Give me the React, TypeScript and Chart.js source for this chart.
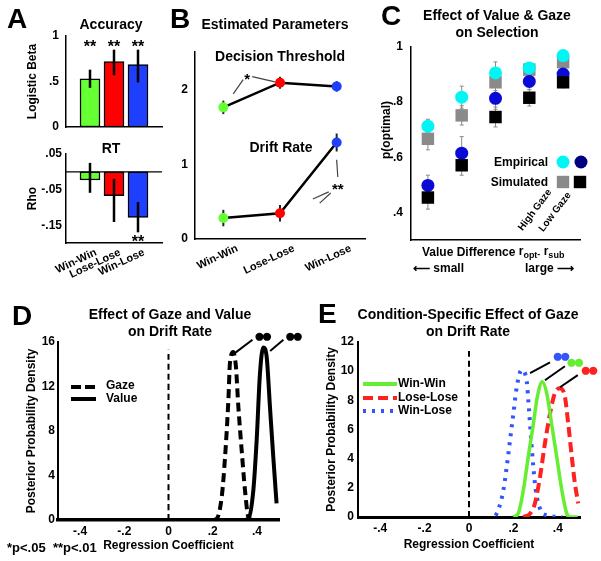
import React, { useEffect, useRef } from 'react';
import { Chart, registerables } from 'chart.js';

Chart.register(...registerables);

const FONT = '"Liberation Sans", Arial, Helvetica, sans-serif';
const PAGE_W = 601;
const PAGE_H = 561;

// ===================== DATA =====================
const CONDITIONS = ['Win-Win', 'Lose-Lose', 'Win-Lose'];
const COND_X = [1, 2, 3];

// Panel A: accuracy (logistic beta) and RT (rho)
const ACC_BETA = [0.53, 0.72, 0.685];
const ACC_LOW = [0.43, 0.57, 0.49];
const ACC_HIGH = [0.63, 0.85, 0.85];
const ACC_TICKS = [0, 0.5, 1];

const RT_RHO = [-0.023, -0.067, -0.128];
const RT_LOW = [-0.059, -0.141, -0.17];
const RT_HIGH = [0.025, -0.02, -0.085];
const RT_TICKS = [0.05, -0.05, -0.15];

// Panel B: estimated parameters
const THRESHOLD = [1.76, 2.09, 2.04];
const THRESHOLD_ERR = [0.09, 0.08, 0.07];
const DRIFT = [0.28, 0.345, 1.29];
const DRIFT_ERR = [0.11, 0.11, 0.12];
const PARAM_TICKS = [0, 1, 2];

// Panel C: p(optimal) by value-difference bin
const VALUE_BINS = [1, 2, 3, 4, 5];
const EMP_HIGH = [0.713, 0.818, 0.906, 0.924, 0.969];
const SIM_HIGH = [0.667, 0.752, 0.872, 0.918, 0.945];
const EMP_LOW = [0.498, 0.615, 0.814, 0.875, 0.902];
const SIM_LOW = [0.454, 0.571, 0.746, 0.816, 0.872];
const EMP_HIGH_ERR = [0.025, 0.04, 0.04, 0.02, 0.015];
const SIM_HIGH_ERR = [0.04, 0.035, 0.03, 0.02, 0.015];
const EMP_LOW_ERR = [0.037, 0.06, 0.04, 0.03, 0.02];
const SIM_LOW_ERR = [0.042, 0.036, 0.036, 0.03, 0.02];
const P_TICKS = [0.4, 0.6, 0.8, 1];

// Panel D: posterior densities of gaze and value coefficients
const COEF_TICKS = [-0.4, -0.2, 0, 0.2, 0.4];
const D_DENSITY_TICKS = [0, 4, 8, 12, 16];
const GAZE_X = [0.2, 0.218, 0.241, 0.256, 0.271, 0.278, 0.293, 0.305, 0.316, 0.331, 0.346, 0.361, 0.38, 0.5];
const GAZE_Y = [0, 0.1, 2.1, 5.7, 10.8, 14.1, 15.1, 13.8, 10.2, 6.3, 2.7, 0.3, 0, 0];
const VALUE_X = [0.34, 0.361, 0.384, 0.399, 0.414, 0.429, 0.444, 0.459, 0.474, 0.489];
const VALUE_Y = [0, 0.1, 2.7, 7.2, 13.2, 15.5, 14.7, 10.2, 5.7, 1.5];
const D_ZERO_REF = [0, 15.3];

// Panel E: condition-specific gaze coefficient posteriors
const E_DENSITY_TICKS = [0, 2, 4, 6, 8, 10, 12];
const WW_X = [0.2, 0.222, 0.245, 0.267, 0.29, 0.308, 0.33, 0.35, 0.372, 0.395, 0.418, 0.44, 0.455, 0.49];
const WW_Y = [0, 0.25, 1.85, 4.14, 6.4, 8.25, 9.28, 8.5, 6.4, 4.14, 1.85, 0.25, 0, 0];
const LL_X = [0.245, 0.275, 0.297, 0.32, 0.342, 0.365, 0.387, 0.41, 0.432, 0.447, 0.463, 0.477, 0.492];
const LL_Y = [0, 0.23, 0.94, 2.76, 5.05, 7.1, 8.5, 8.83, 8.25, 6.4, 4.14, 2.3, 0.94];
const WL_X = [0.12, 0.132, 0.155, 0.17, 0.185, 0.2, 0.215, 0.237, 0.26, 0.27, 0.28, 0.29, 0.3, 0.315, 0.335, 0.42];
const WL_Y = [0.1, 0.48, 1.85, 3.45, 5.28, 7.1, 8.9, 10.08, 9.3, 7.4, 5.3, 3.4, 1.9, 0.8, 0.2, 0];
const E_ZERO_REF = [0, 11.6];

// ===================== STYLE =====================
const GREEN = '#66ff33';
const RED = '#ff0000';
const BLUE = '#1f3fff';
const COND_COLORS = [GREEN, RED, BLUE];
const LINE_GREEN = '#66ee33';
const LINE_RED = '#ff2020';
const LINE_BLUE = '#3355ff';
const CYAN = '#00f5f5';
const DARK_BLUE = '#0a0ad6';
const NAVY = '#000080';
const GRAY = '#8a8a8a';

type Rect = { L: number; T: number; R: number; B: number };
const RECT_ACC: Rect = { L: 66, T: 36, R: 162, B: 127 };
const RECT_RT: Rect = { L: 66, T: 154, R: 162, B: 243 };
const RECT_B: Rect = { L: 195, T: 52, R: 365, B: 239 };
const RECT_C: Rect = { L: 411, T: 47, R: 580, B: 240 };
const RECT_D: Rect = { L: 58, T: 342, R: 279, B: 520 };
const RECT_E: Rect = { L: 358, T: 342, R: 580, B: 517 };

const bold = (size: number) => ({ family: FONT, size, weight: 'bold' as const });

function fmt(v: number): string {
  const r = Math.round(v * 1000) / 1000;
  if (r === 0) return '0';
  return String(r).replace(/^(-?)0\./, '$1.');
}

function baseOptions(r: Rect, yw: number, xh: number) {
  return {
    responsive: false,
    maintainAspectRatio: false,
    animation: false as const,
    devicePixelRatio: 1,
    events: [] as any[],
    layout: { padding: { left: r.L - yw, top: r.T, right: PAGE_W - r.R, bottom: PAGE_H - r.B - xh } },
    plugins: { legend: { display: false }, tooltip: { enabled: false }, title: { display: false } },
  };
}

function yAxis(o: { min: number; max: number; ticks: number[]; width: number; title?: string; pad?: number; size?: number; borderWidth?: number }) {
  return {
    type: 'linear',
    position: 'left',
    min: o.min,
    max: o.max,
    afterBuildTicks: (s: any) => { s.ticks = o.ticks.map((v) => ({ value: v })); },
    afterFit: (s: any) => { s.width = o.width; },
    ticks: { callback: (v: any) => fmt(+v), font: bold(o.size ?? 12), color: '#000', padding: o.pad ?? 5, autoSkip: false },
    grid: { display: false, drawTicks: false },
    border: { display: true, color: '#000', width: o.borderWidth ?? 1.5 },
    title: o.title ? { display: true, text: o.title, font: bold(12), color: '#000', padding: 0 } : { display: false },
  };
}

function xAxis(o: { min: number; max: number; ticks: number[]; height: number; show?: boolean; labels?: (v: number) => string; rotation?: number; labelOffset?: number; title?: string; pad?: number; size?: number; borderWidth?: number }) {
  return {
    type: 'linear',
    position: 'bottom',
    min: o.min,
    max: o.max,
    offset: false,
    afterBuildTicks: (s: any) => { s.ticks = o.ticks.map((v) => ({ value: v })); },
    afterFit: (s: any) => { s.height = o.height; },
    ticks: {
      display: o.show !== false,
      callback: (v: any) => (o.labels ? o.labels(+v) : fmt(+v)),
      font: bold(o.size ?? 12),
      color: '#000',
      padding: o.pad ?? 4,
      autoSkip: false,
      minRotation: o.rotation ?? 0,
      maxRotation: o.rotation ?? 0,
      labelOffset: o.labelOffset ?? 0,
    },
    grid: { display: false, drawTicks: false, offset: false },
    border: { display: true, color: '#000', width: o.borderWidth ?? 1.5 },
    title: o.title ? { display: true, text: o.title, font: bold(12), color: '#000', padding: 0 } : { display: false },
  };
}

const condLabel = (v: number) => CONDITIONS[Math.round(v) - 1] ?? '';

// ---------- drawing helpers (annotations only) ----------
function text(ctx: CanvasRenderingContext2D, s: string, x: number, y: number, o: { size?: number; align?: CanvasTextAlign; baseline?: CanvasTextBaseline; rot?: number; color?: string; spacing?: string } = {}) {
  ctx.save();
  ctx.font = `bold ${o.size ?? 12}px ${FONT}`;
  ctx.fillStyle = o.color ?? '#000';
  ctx.textAlign = o.align ?? 'center';
  ctx.textBaseline = o.baseline ?? 'middle';
  if (o.spacing && 'letterSpacing' in ctx) (ctx as any).letterSpacing = o.spacing;
  ctx.translate(x, y);
  if (o.rot) ctx.rotate((o.rot * Math.PI) / 180);
  ctx.fillText(s, 0, 0);
  ctx.restore();
}
function stars(ctx: CanvasRenderingContext2D, s: string, x: number, yc: number, size = 16) {
  text(ctx, s, x, yc + 0.56 * size, { size, baseline: 'alphabetic' });
}
function seg(ctx: CanvasRenderingContext2D, pts: number[][], width: number, color = '#000', dash: number[] = []) {
  ctx.save();
  ctx.beginPath();
  ctx.setLineDash(dash);
  ctx.lineWidth = width;
  ctx.strokeStyle = color;
  pts.forEach(([x, y], i) => (i ? ctx.lineTo(x, y) : ctx.moveTo(x, y)));
  ctx.stroke();
  ctx.restore();
}
function dp(chart: any, xv: number, yv: number): number[] {
  return [chart.scales.x.getPixelForValue(xv), chart.scales.y.getPixelForValue(yv)];
}
function letter(ctx: CanvasRenderingContext2D, s: string, x: number, y: number) {
  text(ctx, s, x, y, { size: 28, align: 'left', baseline: 'alphabetic' });
}

function decor(id: string, fn: (ctx: CanvasRenderingContext2D, chart: any) => void) {
  return { id, afterDraw: (chart: any) => { const ctx = chart.ctx; ctx.save(); fn(ctx, chart); ctx.restore(); } };
}

type ErrSpec = { xs: number[]; lo: number[]; hi: number[]; color: string; width: number; cap?: number };
function errorBars(id: string, specs: ErrSpec[], phase: 'before' | 'after') {
  const draw = (chart: any) => {
    const { ctx, scales } = chart;
    ctx.save();
    specs.forEach((s) => {
      ctx.strokeStyle = s.color;
      ctx.lineWidth = s.width;
      s.xs.forEach((xv, i) => {
        const px = scales.x.getPixelForValue(xv);
        const p1 = scales.y.getPixelForValue(s.lo[i]);
        const p2 = scales.y.getPixelForValue(s.hi[i]);
        ctx.beginPath();
        ctx.moveTo(px, p1);
        ctx.lineTo(px, p2);
        if (s.cap) {
          ctx.moveTo(px - s.cap, p1); ctx.lineTo(px + s.cap, p1);
          ctx.moveTo(px - s.cap, p2); ctx.lineTo(px + s.cap, p2);
        }
        ctx.stroke();
      });
    });
    ctx.restore();
  };
  return phase === 'before' ? { id, beforeDatasetsDraw: draw } : { id, afterDatasetsDraw: draw };
}

const pairs = (xs: number[], ys: number[]) => xs.map((x, i) => ({ x, y: ys[i] }));
const SIG_SIZE = 19;
const SIG_SPACING = '-4px';

// ===================== CHARTS =====================
function makeAccuracy() {
  return {
    type: 'bar',
    data: {
      datasets: [{
        data: pairs(COND_X, ACC_BETA),
        backgroundColor: COND_COLORS,
        borderColor: '#000',
        borderWidth: 1.5,
        borderSkipped: false,
        barThickness: 20,
      }],
    },
    options: {
      ...baseOptions(RECT_ACC, 40.2, 0),
      scales: {
        x: xAxis({ min: 0, max: 4, ticks: COND_X, height: 0, show: false }),
        y: yAxis({ min: 0, max: 1, ticks: ACC_TICKS, width: 40.2, title: 'Logistic Beta', pad: 7 }),
      },
    },
    plugins: [
      errorBars('accErr', [{ xs: COND_X, lo: ACC_LOW, hi: ACC_HIGH, color: '#000', width: 2.5 }], 'after'),
      decor('accDecor', (ctx, chart) => {
        letter(ctx, 'A', 7, 28);
        text(ctx, 'Accuracy', 111, 25, { size: 14 });
        COND_X.forEach((x) => { const [px, py] = dp(chart, x, 0.92); stars(ctx, '**', px, py); });
      }),
    ],
  };
}

function makeRT() {
  return {
    type: 'bar',
    data: {
      datasets: [
        {
          type: 'bar',
          order: 1,
          data: pairs(COND_X, RT_RHO),
          backgroundColor: COND_COLORS,
          borderColor: '#000',
          borderWidth: 1.5,
          borderSkipped: false,
          barThickness: 20,
        },
        {
          type: 'line',
          order: 0,
          data: [{ x: 0, y: 0 }, { x: 4, y: 0 }],
          borderColor: '#000',
          borderWidth: 1.2,
          pointRadius: 0,
        },
      ],
    },
    options: {
      ...baseOptions(RECT_RT, 40.2, 40),
      scales: {
        x: xAxis({ min: 0, max: 4, ticks: COND_X, height: 40, labels: condLabel, rotation: 25, labelOffset: 6, size: 11, pad: 3 }),
        y: yAxis({ min: -0.2, max: 0.05, ticks: RT_TICKS, width: 40.2, title: 'Rho', pad: 4 }),
      },
    },
    plugins: [
      errorBars('rtErr', [{ xs: COND_X, lo: RT_LOW, hi: RT_HIGH, color: '#000', width: 2.5 }], 'after'),
      decor('rtDecor', (ctx, chart) => {
        text(ctx, 'RT', 111, 149, { size: 14 });
        const [px, py] = dp(chart, 3, -0.187);
        stars(ctx, '**', px, py);
      }),
    ],
  };
}

function makeParams() {
  const lineDs = (ys: number[]) => ({
    data: pairs(COND_X, ys),
    borderColor: '#000',
    borderWidth: 2.5,
    pointRadius: 5,
    pointBackgroundColor: COND_COLORS,
    pointBorderWidth: 0,
    tension: 0,
  });
  return {
    type: 'line',
    data: { datasets: [lineDs(THRESHOLD), lineDs(DRIFT)] },
    options: {
      ...baseOptions(RECT_B, 20, 45),
      scales: {
        x: xAxis({ min: 0.5, max: 3.5, ticks: COND_X, height: 45, labels: condLabel, rotation: 25, labelOffset: 14, size: 11, pad: 3 }),
        y: yAxis({ min: 0, max: 2.5, ticks: PARAM_TICKS, width: 20, pad: 7 }),
      },
    },
    plugins: [
      errorBars('bErr', [
        { xs: COND_X, lo: THRESHOLD.map((v, i) => v - THRESHOLD_ERR[i]), hi: THRESHOLD.map((v, i) => v + THRESHOLD_ERR[i]), color: '#222', width: 2 },
        { xs: COND_X, lo: DRIFT.map((v, i) => v - DRIFT_ERR[i]), hi: DRIFT.map((v, i) => v + DRIFT_ERR[i]), color: '#222', width: 2 },
      ], 'before'),
      decor('bDecor', (ctx, chart) => {
        letter(ctx, 'B', 170, 28);
        text(ctx, 'Estimated Parameters', 275, 25, { size: 14 });
        text(ctx, 'Decision Threshold', 280, 57, { size: 14 });
        text(ctx, 'Drift Rate', 281, 148, { size: 14 });
        const thin = '#444';
        seg(ctx, [dp(chart, 1.175, 1.94), dp(chart, 1.35, 2.13)], 1.2, thin);
        seg(ctx, [dp(chart, 1.51, 2.17), dp(chart, 1.91, 2.1)], 1.2, thin);
        const [sx, sy] = dp(chart, 1.42, 2.18);
        stars(ctx, '*', sx, sy, 15);
        seg(ctx, [dp(chart, 3.0, 1.06), dp(chart, 3.02, 0.83)], 1.2, thin);
        seg(ctx, [dp(chart, 2.86, 0.63), dp(chart, 2.58, 0.535)], 1.2, thin);
        seg(ctx, [dp(chart, 2.895, 0.615), dp(chart, 2.7, 0.48)], 1.2, thin);
        const [tx, ty] = dp(chart, 3.02, 0.72);
        stars(ctx, '**', tx, ty, 15);
      }),
    ],
  };
}

function makeSelection() {
  const pts = (ys: number[]) => pairs(VALUE_BINS, ys);
  return {
    type: 'scatter',
    data: {
      datasets: [
        { data: pts(SIM_HIGH), pointStyle: 'rect', pointRadius: 8.8, backgroundColor: GRAY, borderWidth: 0, order: 4 },
        { data: pts(EMP_HIGH), pointStyle: 'circle', pointRadius: 6.5, backgroundColor: CYAN, borderWidth: 0, order: 3 },
        { data: pts(EMP_LOW), pointStyle: 'circle', pointRadius: 6.5, backgroundColor: DARK_BLUE, borderWidth: 0, order: 2 },
        { data: pts(SIM_LOW), pointStyle: 'rect', pointRadius: 8.8, backgroundColor: '#000', borderWidth: 0, order: 1 },
      ],
    },
    options: {
      ...baseOptions(RECT_C, 31, 0),
      scales: {
        x: xAxis({ min: 0.5, max: 5.5, ticks: VALUE_BINS, height: 0, show: false }),
        y: yAxis({ min: 0.3, max: 1, ticks: P_TICKS, width: 31, pad: 8 }),
      },
    },
    plugins: [
      errorBars('cErr', [
        { xs: VALUE_BINS, lo: SIM_HIGH.map((v, i) => v - SIM_HIGH_ERR[i]), hi: SIM_HIGH.map((v, i) => v + SIM_HIGH_ERR[i]), color: GRAY, width: 1, cap: 2 },
        { xs: VALUE_BINS, lo: EMP_HIGH.map((v, i) => v - EMP_HIGH_ERR[i]), hi: EMP_HIGH.map((v, i) => v + EMP_HIGH_ERR[i]), color: GRAY, width: 1, cap: 2 },
        { xs: VALUE_BINS, lo: EMP_LOW.map((v, i) => v - EMP_LOW_ERR[i]), hi: EMP_LOW.map((v, i) => v + EMP_LOW_ERR[i]), color: GRAY, width: 1, cap: 2 },
        { xs: VALUE_BINS, lo: SIM_LOW.map((v, i) => v - SIM_LOW_ERR[i]), hi: SIM_LOW.map((v, i) => v + SIM_LOW_ERR[i]), color: GRAY, width: 1, cap: 2 },
      ], 'before'),
      decor('cDecor', (ctx) => {
        letter(ctx, 'C', 381, 25);
        text(ctx, 'Effect of Value & Gaze', 497, 16, { size: 14 });
        text(ctx, 'on Selection', 497, 33, { size: 14 });
        text(ctx, 'p(optimal)', 387, 130, { size: 12, rot: -90 });
        // legend
        text(ctx, 'Empirical', 548, 163, { size: 12, align: 'right' });
        text(ctx, 'Simulated', 548, 183, { size: 12, align: 'right' });
        const dot = (x: number, y: number, c: string) => { ctx.beginPath(); ctx.fillStyle = c; ctx.arc(x, y, 6.5, 0, Math.PI * 2); ctx.fill(); };
        const sq = (x: number, y: number, c: string) => { ctx.fillStyle = c; ctx.fillRect(x - 6.2, y - 6.2, 12.4, 12.4); };
        dot(563, 162, CYAN); dot(581, 162, NAVY);
        sq(563, 182, GRAY); sq(580, 182, '#000');
        text(ctx, 'High Gaze', 535, 210, { size: 10, rot: -53 });
        text(ctx, 'Low Gaze', 555, 212, { size: 10, rot: -53 });
        // x label with subscripts
        let x = 422;
        const base = 256;
        const parts: [string, number, number][] = [['Value Difference ', 12, 0], ['r', 12, -1], ['opt', 9, 2], ['-', 9, 1], [' ', 12, 0], ['r', 12, -1], ['sub', 9, 2]];
        parts.forEach(([s, size, dy]) => {
          ctx.font = `bold ${size}px ${FONT}`;
          ctx.fillStyle = '#000';
          ctx.textAlign = 'left';
          ctx.textBaseline = 'alphabetic';
          ctx.fillText(s, x, base + dy);
          x += ctx.measureText(s).width;
        });
        text(ctx, '⟵ small', 413, 269, { size: 12, align: 'left' });
        text(ctx, 'large ⟶', 574, 269, { size: 12, align: 'right' });
      }),
    ],
  };
}

function curve(xs: number[], ys: number[], color: string, width: number, dash: number[], order: number) {
  return {
    data: pairs(xs, ys),
    borderColor: color,
    borderWidth: width,
    borderDash: dash,
    pointRadius: 0,
    cubicInterpolationMode: 'monotone',
    fill: false,
    order,
  };
}

function makeGazeValue() {
  return {
    type: 'line',
    data: {
      datasets: [
        curve([0, 0], D_ZERO_REF, '#000', 2, [6, 4], 3),
        curve(GAZE_X, GAZE_Y, '#000', 4, [9, 5], 2),
        curve(VALUE_X, VALUE_Y, '#000', 4, [], 1),
      ],
    },
    options: {
      ...baseOptions(RECT_D, 33.2, 33.2),
      scales: {
        x: xAxis({ min: -0.5, max: 0.5, ticks: COEF_TICKS, height: 33.2, title: 'Regression Coefficient', pad: 4, borderWidth: 3.5 }),
        y: yAxis({ min: 0, max: 16, ticks: D_DENSITY_TICKS, width: 33.2, title: 'Posterior Probability Density', pad: 3, borderWidth: 2 }),
      },
    },
    plugins: [
      decor('dDecor', (ctx, chart) => {
        letter(ctx, 'D', 12, 325);
        text(ctx, 'Effect of Gaze and Value', 170, 315, { size: 14 });
        text(ctx, 'on Drift Rate', 170, 332, { size: 14 });
        seg(ctx, [[71, 387], [96, 387]], 4, '#000', [10, 4]);
        text(ctx, 'Gaze', 106, 386, { size: 12, align: 'left' });
        seg(ctx, [[71, 399], [96, 399]], 4);
        text(ctx, 'Value', 106, 399, { size: 12, align: 'left' });
        seg(ctx, [dp(chart, 0.3, 15.0), dp(chart, 0.38, 16.2)], 2);
        const [ax, ay] = dp(chart, 0.42, 16.45);
        text(ctx, '●●', ax, ay, { size: SIG_SIZE, spacing: SIG_SPACING });
        seg(ctx, [dp(chart, 0.46, 15.2), dp(chart, 0.52, 16.2)], 2);
        const [bx, by] = dp(chart, 0.559, 16.45);
        text(ctx, '●●', bx, by, { size: SIG_SIZE, spacing: SIG_SPACING });
        text(ctx, '*p<.05  **p<.01', 7, 548, { size: 13, align: 'left' });
      }),
    ],
  };
}

function makeCondition() {
  return {
    type: 'line',
    data: {
      datasets: [
        curve([0, 0], E_ZERO_REF, '#000', 2, [6, 4], 4),
        curve(WL_X, WL_Y, LINE_BLUE, 4, [3, 6], 3),
        curve(LL_X, LL_Y, LINE_RED, 4, [10, 5], 2),
        curve(WW_X, WW_Y, LINE_GREEN, 3.5, [], 1),
      ],
    },
    options: {
      ...baseOptions(RECT_E, 33.2, 35.2),
      scales: {
        x: xAxis({ min: -0.5, max: 0.5, ticks: COEF_TICKS, height: 35.2, title: 'Regression Coefficient', pad: 4, borderWidth: 3 }),
        y: yAxis({ min: 0, max: 12, ticks: E_DENSITY_TICKS, width: 33.2, title: 'Posterior Probability Density', pad: 4, borderWidth: 2 }),
      },
    },
    plugins: [
      decor('eDecor', (ctx, chart) => {
        letter(ctx, 'E', 318, 323);
        text(ctx, 'Condition-Specific Effect of Gaze', 468, 315, { size: 14 });
        text(ctx, 'on Drift Rate', 468, 332, { size: 14 });
        seg(ctx, [[363, 384], [397, 384]], 4, LINE_GREEN);
        text(ctx, 'Win-Win', 398, 384, { size: 12, align: 'left' });
        seg(ctx, [[363, 398], [397, 398]], 4, LINE_RED, [10, 5]);
        text(ctx, 'Lose-Lose', 398, 398, { size: 12, align: 'left' });
        seg(ctx, [[363, 411], [397, 411]], 4, LINE_BLUE, [3, 6]);
        text(ctx, 'Win-Lose', 398, 411, { size: 12, align: 'left' });
        const sig = (x1: number, y1: number, x2: number, y2: number, tx: number, ty: number, c: string) => {
          seg(ctx, [dp(chart, x1, y1), dp(chart, x2, y2)], 2);
          const [px, py] = dp(chart, tx, ty);
          text(ctx, '●●', px, py, { size: SIG_SIZE, color: c, spacing: SIG_SPACING });
        };
        sig(0.275, 9.86, 0.365, 10.6, 0.408, 10.96, LINE_BLUE);
        sig(0.342, 9.38, 0.432, 10.34, 0.47, 10.55, LINE_GREEN);
        sig(0.41, 8.9, 0.49, 9.73, 0.534, 10.0, LINE_RED);
      }),
    ],
  };
}

const CHARTS = [makeAccuracy, makeRT, makeParams, makeSelection, makeGazeValue, makeCondition];

function ChartLayer({ make }: { make: () => any }) {
  const ref = useRef<HTMLCanvasElement>(null);
  useEffect(() => {
    if (!ref.current) return;
    const chart = new Chart(ref.current, make());
    return () => chart.destroy();
  }, [make]);
  return (
    <canvas
      ref={ref}
      width={PAGE_W}
      height={PAGE_H}
      style={{ position: 'absolute', left: 0, top: 0, width: PAGE_W, height: PAGE_H }}
    />
  );
}

export default function App() {
  return (
    <div style={{ position: 'absolute', left: 0, top: 0, width: PAGE_W, height: PAGE_H, background: '#fff', overflow: 'hidden' }}>
      {CHARTS.map((make, i) => (
        <ChartLayer key={i} make={make} />
      ))}
    </div>
  );
}
